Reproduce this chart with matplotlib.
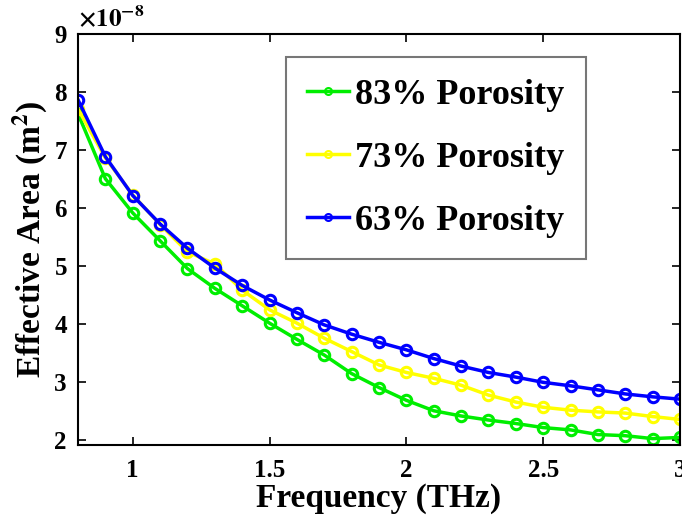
import matplotlib
matplotlib.use('Agg')
import matplotlib.pyplot as plt

# Данные (эффективная площадь, единицы 1e-8 m^2)
freq = [0.8, 0.9, 1.0, 1.1, 1.2, 1.3, 1.4, 1.5, 1.6, 1.7, 1.8, 1.9,
        2.0, 2.1, 2.2, 2.3, 2.4, 2.5, 2.6, 2.7, 2.8, 2.9, 3.0]
area_83 = [7.63, 6.51, 5.92, 5.44, 4.96, 4.62, 4.32, 4.02, 3.74, 3.47, 3.15, 2.91,
           2.69, 2.51, 2.42, 2.35, 2.29, 2.22, 2.18, 2.10, 2.08, 2.03, 2.05]
area_73 = [7.71, 6.87, 6.23, 5.72, 5.25, 5.04, 4.59, 4.25, 4.02, 3.76, 3.53, 3.30,
           3.17, 3.07, 2.95, 2.78, 2.66, 2.57, 2.52, 2.49, 2.47, 2.41, 2.36]
area_63 = [7.87, 6.89, 6.22, 5.73, 5.31, 4.97, 4.67, 4.42, 4.20, 3.99, 3.83, 3.69,
           3.56, 3.41, 3.28, 3.17, 3.09, 3.00, 2.94, 2.87, 2.80, 2.75, 2.71]
labels = ['83% Porosity', '73% Porosity', '63% Porosity']
colors = ['#00ee00', '#ffff00', '#0000ff']

plt.rcParams['font.family'] = 'Liberation Serif'
plt.rcParams['font.weight'] = 'bold'
plt.rcParams['mathtext.fontset'] = 'stix'

fig = plt.figure(figsize=(6.82, 5.24), dpi=100)
ax = fig.add_axes([0.1144, 0.1508, 0.8827, 0.7838])

for y, c, lab in zip([area_83, area_73, area_63], colors, labels):
    ax.plot(freq, y, color=c, lw=2.5, marker='o', ms=7.5, mfc='none',
            mew=2.2, label=lab)

ax.set_xlim(0.8, 3.0)
ax.set_ylim(1.92, 9)
ax.set_xticks([1, 1.5, 2, 2.5, 3])
ax.set_xticklabels(['1', '1.5', '2', '2.5', '3'])
ax.set_yticks([2, 3, 4, 5, 6, 7, 8, 9])
ax.tick_params(direction='in', top=True, right=True, length=6, width=1.2,
               labelsize=18)
ax.tick_params(axis='x', pad=10)
ax.tick_params(axis='y', pad=8)
for s in ax.spines.values():
    s.set_linewidth(1.5)

ax.set_xlabel('Frequency (THz)', fontsize=24, fontweight='bold', labelpad=1)
ax.set_ylabel('Effective Area (m$^\\mathbf{2}$)', fontsize=24, fontweight='bold', labelpad=3)
ax.text(0.0, 1.006, r'$\times10^{-8}$', transform=ax.transAxes, fontsize=18,
        ha='left', va='bottom')

leg = ax.legend(loc='upper left', bbox_to_anchor=(0.345, 0.945), borderaxespad=0,
                fontsize=26, handlelength=1.15, handletextpad=0.16, labelspacing=0.82,
                fancybox=False, borderpad=0.6)
leg.get_frame().set_edgecolor('#555555')
leg.get_frame().set_linewidth(1.5)
for h in leg.legend_handles:
    h.set_markersize(5)
    h.set_markeredgewidth(1.5)

fig.savefig('out.png', dpi=100)
